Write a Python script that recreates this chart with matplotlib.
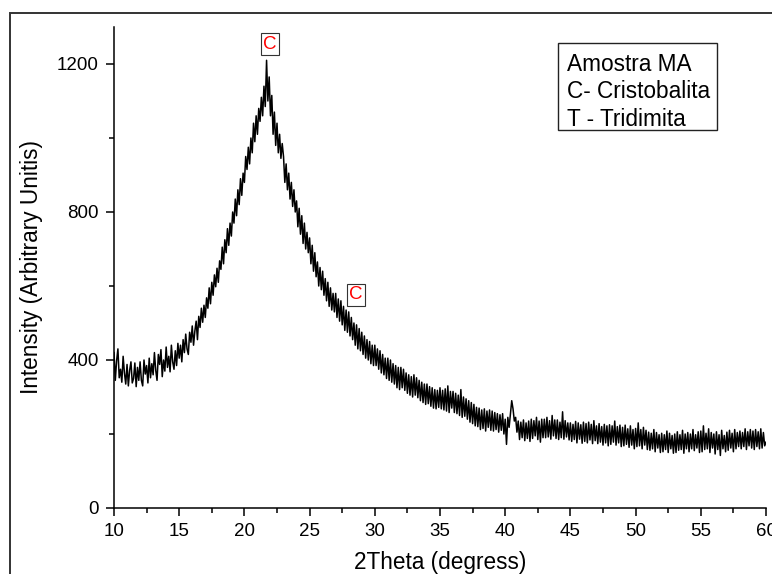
import numpy as np
import matplotlib
matplotlib.use('Agg')
import matplotlib.pyplot as plt
from matplotlib.patches import Rectangle
from matplotlib.ticker import MultipleLocator

plt.rcParams['font.family'] = ['Liberation Sans', 'DejaVu Sans']

# 2Theta grid, 10.0 .. 60.0 in steps of 0.1 deg
two_theta = np.round(np.arange(100, 601) / 10.0, 1)

# intensity, one row per degree (x.0 .. x.9)
intensity = [
    420, 345, 398, 430, 352, 375, 340, 410, 365, 335,   # 10
    388, 330, 372, 395, 338, 350, 392, 328, 380, 345,   # 11
    395, 345, 330, 400, 362, 385, 338, 405, 352, 390,   # 12
    360, 420, 372, 345, 415, 388, 428, 355, 400, 370,   # 13
    435, 380, 410, 368, 440, 395, 375, 425, 385, 445,   # 14
    405, 440, 395, 455, 420, 470, 430, 415, 475, 448,   # 15
    492, 440, 478, 505, 455, 518, 488, 540, 502, 548,   # 16
    515, 568, 540, 595, 552, 610, 575, 630, 598, 648,   # 17
    610, 668, 645, 705, 660, 725, 690, 755, 710, 770,   # 18
    735, 800, 770, 835, 790, 860, 820, 890, 845, 905,   # 19
    880, 950, 915, 975, 930, 1000, 960, 1040, 990, 1060,  # 20
    1010, 1080, 1045, 1110, 1060, 1140, 1085, 1210, 1100, 1165,  # 21
    1060, 1115, 1010, 1070, 980, 1040, 960, 1010, 945, 985,  # 22
    950, 880, 930, 860, 905, 835, 880, 815, 860, 800,   # 23
    830, 760, 810, 740, 790, 715, 770, 700, 745, 690,   # 24
    730, 660, 710, 640, 690, 625, 665, 600, 650, 590,   # 25
    640, 575, 620, 560, 610, 545, 595, 535, 580, 530,   # 26
    580, 515, 565, 505, 560, 495, 545, 480, 535, 475,   # 27
    530, 465, 515, 455, 500, 440, 495, 430, 485, 425,   # 28
    475, 415, 465, 405, 455, 400, 450, 390, 440, 385,   # 29
    440, 385, 430, 375, 425, 365, 415, 360, 405, 350,   # 30
    405, 345, 400, 340, 390, 335, 385, 325, 380, 320,   # 31
    380, 325, 375, 318, 365, 310, 360, 305, 355, 300,   # 32
    360, 305, 352, 298, 345, 290, 340, 285, 335, 280,   # 33
    335, 282, 328, 275, 325, 270, 320, 268, 318, 272,   # 34
    325, 268, 318, 265, 322, 262, 330, 258, 315, 270,   # 35
    315, 258, 310, 255, 305, 250, 320, 245, 300, 248,   # 36
    295, 240, 290, 232, 285, 228, 280, 222, 272, 220,   # 37
    270, 212, 265, 215, 268, 208, 262, 218, 265, 210,   # 38
    262, 208, 258, 212, 255, 205, 252, 210, 255, 200,   # 39
    240, 172, 245, 218, 255, 290, 268, 235, 245, 205,   # 40
    235, 185, 232, 190, 238, 182, 230, 188, 235, 180,   # 41
    240, 188, 236, 195, 245, 185, 235, 178, 240, 190,   # 42
    240, 190, 245, 192, 236, 186, 250, 195, 238, 188,   # 43
    238, 185, 232, 190, 260, 186, 236, 192, 230, 184,   # 44
    230, 180, 226, 185, 234, 176, 230, 186, 225, 175,   # 45
    232, 180, 228, 176, 232, 184, 226, 174, 236, 182,   # 46
    222, 174, 228, 178, 220, 170, 226, 176, 222, 168,   # 47
    225, 172, 222, 178, 235, 170, 220, 176, 224, 166,   # 48
    218, 168, 224, 172, 214, 164, 222, 170, 212, 160,   # 49
    215, 166, 230, 168, 212, 160, 218, 170, 210, 158,   # 50
    205, 156, 202, 160, 212, 152, 204, 162, 198, 150,   # 51
    202, 152, 198, 158, 208, 150, 202, 160, 196, 148,   # 52
    200, 150, 206, 156, 198, 158, 210, 148, 200, 160,   # 53
    204, 152, 200, 160, 212, 155, 198, 162, 206, 150,   # 54
    208, 152, 222, 158, 202, 160, 214, 150, 204, 162,   # 55
    200, 146, 206, 158, 198, 142, 210, 160, 196, 152,   # 56
    205, 156, 210, 162, 202, 152, 212, 160, 204, 166,   # 57
    208, 160, 204, 166, 214, 158, 206, 168, 212, 162,   # 58
    208, 158, 212, 166, 206, 160, 214, 162, 204, 168,   # 59
    178,                                                # 60
]

# peak markers (2theta, intensity, label)
peak_x = [21.93, 28.52]
peak_y = [1254, 576]
peak_labels = ['C', 'C']

legend_lines = ['Amostra MA', 'C- Cristobalita', 'T - Tridimita']

fig = plt.figure(figsize=(7.72, 5.74), dpi=100)
ax = fig.add_axes([114 / 772, 1 - 508 / 574, 652 / 772, 481 / 574])

ax.plot(two_theta, intensity, color='black', lw=1.1)

ax.set_xlim(10, 60)
ax.set_ylim(0, 1300)
ax.xaxis.set_major_locator(MultipleLocator(5))
ax.xaxis.set_minor_locator(MultipleLocator(2.5))
ax.yaxis.set_major_locator(MultipleLocator(400))
ax.yaxis.set_minor_locator(MultipleLocator(200))
ax.tick_params(which='major', direction='out', length=6, width=1.1, labelsize=13.5, pad=5)
ax.tick_params(which='minor', direction='out', length=3.5, width=1.1)
for side in ['top', 'right']:
    ax.spines[side].set_visible(False)
for side in ['left', 'bottom']:
    ax.spines[side].set_linewidth(1.1)

ax.set_xlabel('2Theta (degress)', fontsize=16.3, labelpad=8)
ax.set_ylabel('Intensity (Arbitrary Unitis)', fontsize=16.3, labelpad=10)

for px, py, lab in zip(peak_x, peak_y, peak_labels):
    ax.text(px, py, lab, color='red', fontsize=13.5, ha='center', va='center',
            bbox=dict(boxstyle='square,pad=0.12', fc='white', ec='#333333', lw=0.8))

for i, line in enumerate(legend_lines):
    fig.text(567 / 772, 1 - (71 + 27.5 * i) / 574, line, fontsize=16.3,
             ha='left', va='baseline')
fig.patches.append(Rectangle((558 / 772, 1 - 130 / 574), 159 / 772, 87 / 574,
                             transform=fig.transFigure, fill=False, ec='#222222', lw=1.0))

# outer frame around the graph page
fig.patches.append(Rectangle((10 / 772, -0.1), 1.2, 1 - 13 / 574 + 0.1,
                             transform=fig.transFigure, fill=False, ec='#333333', lw=1.4))

fig.savefig('out.png', dpi=100)
